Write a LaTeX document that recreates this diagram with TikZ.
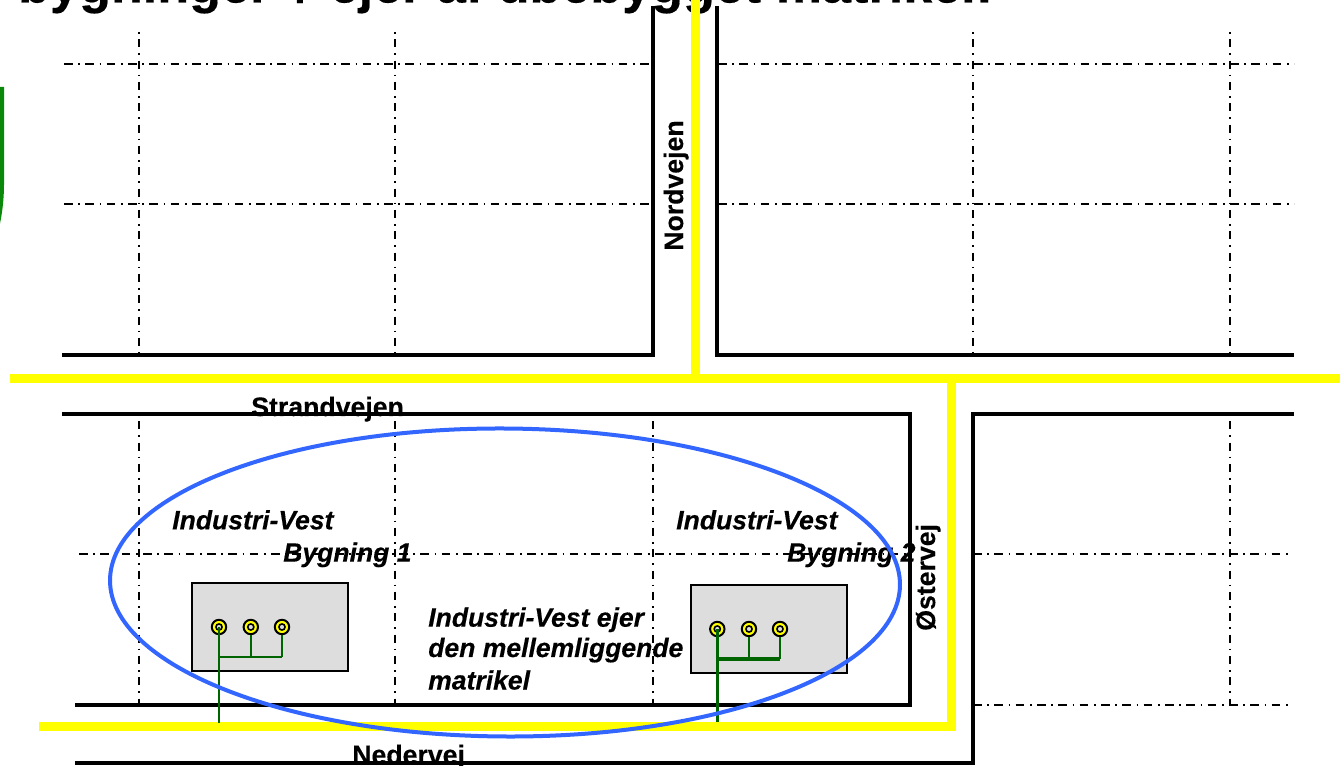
\documentclass[tikz,border=0pt]{standalone}
\usepackage{fontspec}
\setmainfont{Liberation Sans}[BoldFeatures={FakeBold=0.35},BoldItalicFeatures={FakeBold=0.35}]
\definecolor{yel}{RGB}{255,255,0}
\definecolor{ell}{RGB}{51,102,255}
\definecolor{grn}{RGB}{0,100,0}
\definecolor{grn2}{RGB}{10,136,10}
\definecolor{bld}{RGB}{221,221,221}
\tikzset{x=0.75pt,y=-0.75pt,
 road/.style={line width=3pt,black},
 pipe/.style={line width=6.6pt,yel},
 plotv/.style={line width=1.1pt,black,dash pattern=on 1.2pt off 4.3pt on 6pt off 4.5pt},
 ploth/.style={line width=1.4pt,black,dash pattern=on 6.5pt off 4.2pt on 1.2pt off 4.1pt},
 rname/.style={font=\bfseries\fontsize{20}{20}\selectfont,inner sep=0pt,text=black,anchor=base west},
 ital/.style={font=\bfseries\itshape\fontsize{19.9}{20}\selectfont,inner sep=0pt,text=black,anchor=base west},
 house/.style={draw=black,line width=1.5pt,fill=bld,rectangle,anchor=north west,inner sep=0pt,outer sep=0pt,minimum width=117.4pt,minimum height=65.6pt},
 valve/.style={circle,draw=black,fill=yel,line width=1.5pt,minimum size=10.8pt,inner sep=0pt},
 valvein/.style={circle,draw=black,fill=bld,line width=1.2pt,minimum size=4.6pt,inner sep=0pt},
 gthin/.style={line width=1.4pt,grn},
 gbus/.style={line width=1.8pt,grn},
 gbusb/.style={line width=2.4pt,grn}}
\begin{document}
\begin{tikzpicture}
\useasboundingbox (0,0) rectangle (1340,766);
\clip (0,0) rectangle (1340,766);
% green remnant
\draw[line width=3pt,grn2] (2,87) -- (2,185) .. controls (2,200) and (0,215) .. (-3,228);
% plot lines
\foreach \x in {139,395,973,1230}{\draw[plotv] (\x,32) -- (\x,354);}
\foreach \y in {64,204}{\draw[ploth] (64,\y) -- (652,\y); \draw[ploth] (718,\y) -- (1294,\y);}
\foreach \x in {139,395,653,1230}{\draw[plotv] (\x,414) -- (\x,704);}
\draw[ploth] (79,554) -- (909,554);
\draw[ploth] (973,554) -- (1290,554);
\draw[ploth] (973,705) -- (1290,705);
% title
\node[font=\bfseries\fontsize{39.1}{40}\selectfont,anchor=base west,inner sep=0pt] (title) at (18,2.5) {bygninger \raisebox{-3.5pt}{+} ejer af ubebygget matrikel:};
% labels under the roads
\node[rname] (s) at (251,416) {Strandvejen};
\node[rname] (d) at (352,764) {Nedervej};
% roads
\draw[road] (653,6) -- (653,355) -- (62,355);
\draw[road] (717,6) -- (717,355) -- (1294,355);
\draw[road] (62,414) -- (909.5,414) -- (909.5,705) -- (75,705);
\draw[road] (1294,414) -- (973,414) -- (973,763) -- (75,763);
% pipes
\draw[pipe] (695.6,0) -- (695.6,378);
\draw[pipe] (10,378.3) -- (1340,378.3);
\draw[pipe] (951.6,378) -- (951.6,726.5) -- (39,726.5);
% buildings
\node[house] (b1) at (191.5,583.5) {};
\node[house] (b2) at (690.5,585.5) {};
\foreach \n/\x/\y in {v1/219/627,v2/250.8/627,v3/282/627,v4/717.3/629,v5/749/629,v6/780/629}{
 \node[valve] (\n) at (\x,\y) {};
 \node[valvein] (\n i) at (\x,\y) {};
}
\coordinate (p1) at (219,723); \coordinate (p2) at (717.3,722);
\coordinate (j1) at (219,656.7); \coordinate (j2) at (250.8,656.7); \coordinate (j3) at (282,656.7);
\coordinate (j4) at (717.3,659); \coordinate (j5) at (749,659); \coordinate (j6) at (780,659);
\draw[line width=1pt,grn] (v1i.center) -- (p1);
\draw[gbus] (j1) -- (j3);
\draw[gthin] (v3.south) -- (j3);
\draw[gthin] (v2.south) -- (j2);
\draw[line width=2.2pt,grn] (v4i.center) -- (p2);
\draw[gbusb] (j4) -- (j6);
\draw[gthin] (v6.south) -- (j6);
\draw[gthin] (v5.south) -- (j5);
% labels
\node[rname,rotate=90] (n) at (683,251) {Nordvejen};
\node[rname,rotate=90] (o) at (935,631) {Østervej};
\node[ital] (t1) at (172,529.3) {Industri-Vest};
\node[ital] (t2) at (283,561.7) {Bygning 1};
\node[ital] (t3) at (676,529.3) {Industri-Vest};
\node[ital] (t4) at (787,561.7) {Bygning 2};
\node[ital] (t5) at (428,626.7) {Industri-Vest ejer};
\node[ital] (t6) at (428,657) {den mellemliggende};
\node[ital] (t7) at (428,689.5) {matrikel};
% ellipse
\draw[line width=3pt,ell,shift={(505,582.5)},rotate=-0.35] (0,0) ellipse [x radius=296.25pt,y radius=115.5pt];
\end{tikzpicture}
\end{document}
